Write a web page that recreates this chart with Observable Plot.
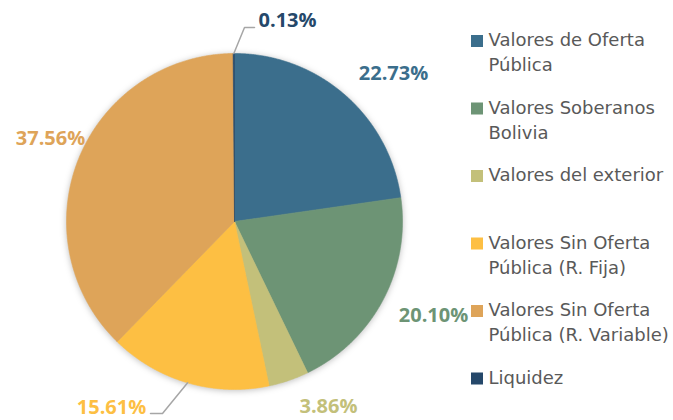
<!DOCTYPE html>
<html><head><meta charset="utf-8">
<script src="https://cdn.jsdelivr.net/npm/d3@7"></script>
<script src="https://cdn.jsdelivr.net/npm/@observablehq/plot@0.6"></script>
<style>
body{margin:0;background:#fff}
#chart{width:673px;height:420px}
</style>
</head><body><div id="chart"></div>
<script>
const categories = ["Valores de Oferta Pública","Valores Soberanos Bolivia","Valores del exterior","Valores Sin Oferta Pública (R. Fija)","Valores Sin Oferta Pública (R. Variable)","Liquidez"];
const legendLabels = ["Valores de Oferta\nPública","Valores Soberanos\nBolivia","Valores del exterior","Valores Sin Oferta\nPública (R. Fija)","Valores Sin Oferta\nPública (R. Variable)","Liquidez"];
const shares = [22.73, 20.10, 3.86, 15.61, 37.56, 0.13];
const valueLabels = ["22.73%","20.10%","3.86%","15.61%","37.56%","0.13%"];
const colors = ["#3b6e8c","#6d9475","#c3c07a","#fdbf43","#dea459","#25486a"];

// layout
const W = 673, H = 420, cx = 234, cy = 221, R = 168;
const labelLayout = {
  "Valores de Oferta Pública": {x: 393, y: 73, anchor: "middle"},
  "Valores Soberanos Bolivia": {x: 433, y: 315, anchor: "middle"},
  "Valores del exterior": {x: 328, y: 406, anchor: "middle"},
  "Valores Sin Oferta Pública (R. Fija)": {x: 111, y: 407, anchor: "middle"},
  "Valores Sin Oferta Pública (R. Variable)": {x: 50, y: 138, anchor: "middle"},
  "Liquidez": {x: 258, y: 20, anchor: "start"}
};
const leaderBends = {
  "Valores Sin Oferta Pública (R. Fija)": [[162, 413], [150, 413]],
  "Liquidez": [[244, 27], [254, 27]]
};

const arcs = d3.pie().sort(null).value(d => d)(shares);
const pt = (a, r) => [cx + r * Math.sin(a), cy - r * Math.cos(a)];

const slicePts = [];
arcs.forEach((a, i) => {
  const name = categories[i];
  const n = Math.max(2, Math.ceil((a.endAngle - a.startAngle) / 0.005));
  slicePts.push({name, x: cx, y: cy});
  for (let k = 0; k <= n; k++) {
    const t = a.startAngle + (a.endAngle - a.startAngle) * k / n;
    const [x, y] = pt(t, R);
    slicePts.push({name, x, y});
  }
  slicePts.push({name, x: cx, y: cy});
});

const leaderPts = [];
arcs.forEach((a, i) => {
  const name = categories[i];
  if (!leaderBends[name]) return;
  const mid = (a.startAngle + a.endAngle) / 2;
  const [x0, y0] = pt(mid, R);
  leaderPts.push({name, x: x0, y: y0});
  leaderBends[name].forEach(([x, y]) => leaderPts.push({name, x, y}));
});

const labels = categories.map((name, i) => ({name, text: valueLabels[i], ...labelLayout[name]}));
const legend = categories.map((name, i) => ({name, text: legendLabels[i], i}));
const legendTop = 35, legendStep = 67.5;

const chart = Plot.plot({
  width: W, height: H, margin: 0,
  x: {domain: [0, W], range: [0, W], axis: null},
  y: {domain: [0, H], range: [0, H], axis: null},
  color: {domain: categories, range: colors},
  style: {background: "#fff"},
  marks: [
    Plot.line(slicePts, {x: "x", y: "y", z: "name", fill: "name", stroke: "name", strokeWidth: 0.6, curve: "linear"}),
    Plot.line(leaderPts, {x: "x", y: "y", z: "name", stroke: "#a6a6a6", strokeWidth: 1.5}),
    Plot.text(labels.filter(d => d.anchor === "middle"), {x: "x", y: "y", text: "text", fill: "name", fontWeight: "bold", fontSize: 20, fontFamily: "Open Sans", textAnchor: "middle"}),
    Plot.text(labels.filter(d => d.anchor === "start"), {x: "x", y: "y", text: "text", fill: "name", fontWeight: "bold", fontSize: 20, fontFamily: "Open Sans", textAnchor: "start"}),
    Plot.rect(legend, {x1: () => 471, x2: () => 483, y1: d => legendTop + d.i * legendStep, y2: d => legendTop + d.i * legendStep + 12, fill: "name"}),
    Plot.text(legend, {x: () => 488, y: d => legendTop - 7 + d.i * legendStep, text: "text", lineAnchor: "top", lineHeight: 1.39, textAnchor: "start", fill: "#595959", fontSize: 18, fontFamily: "DejaVu Sans"})
  ]
});
document.getElementById("chart").appendChild(chart);
const pie = chart.querySelector('g[aria-label="line"]');
if (pie) pie.style.filter = "drop-shadow(0px 1px 3px rgba(0,0,0,0.25))";
</script>
</body></html>
